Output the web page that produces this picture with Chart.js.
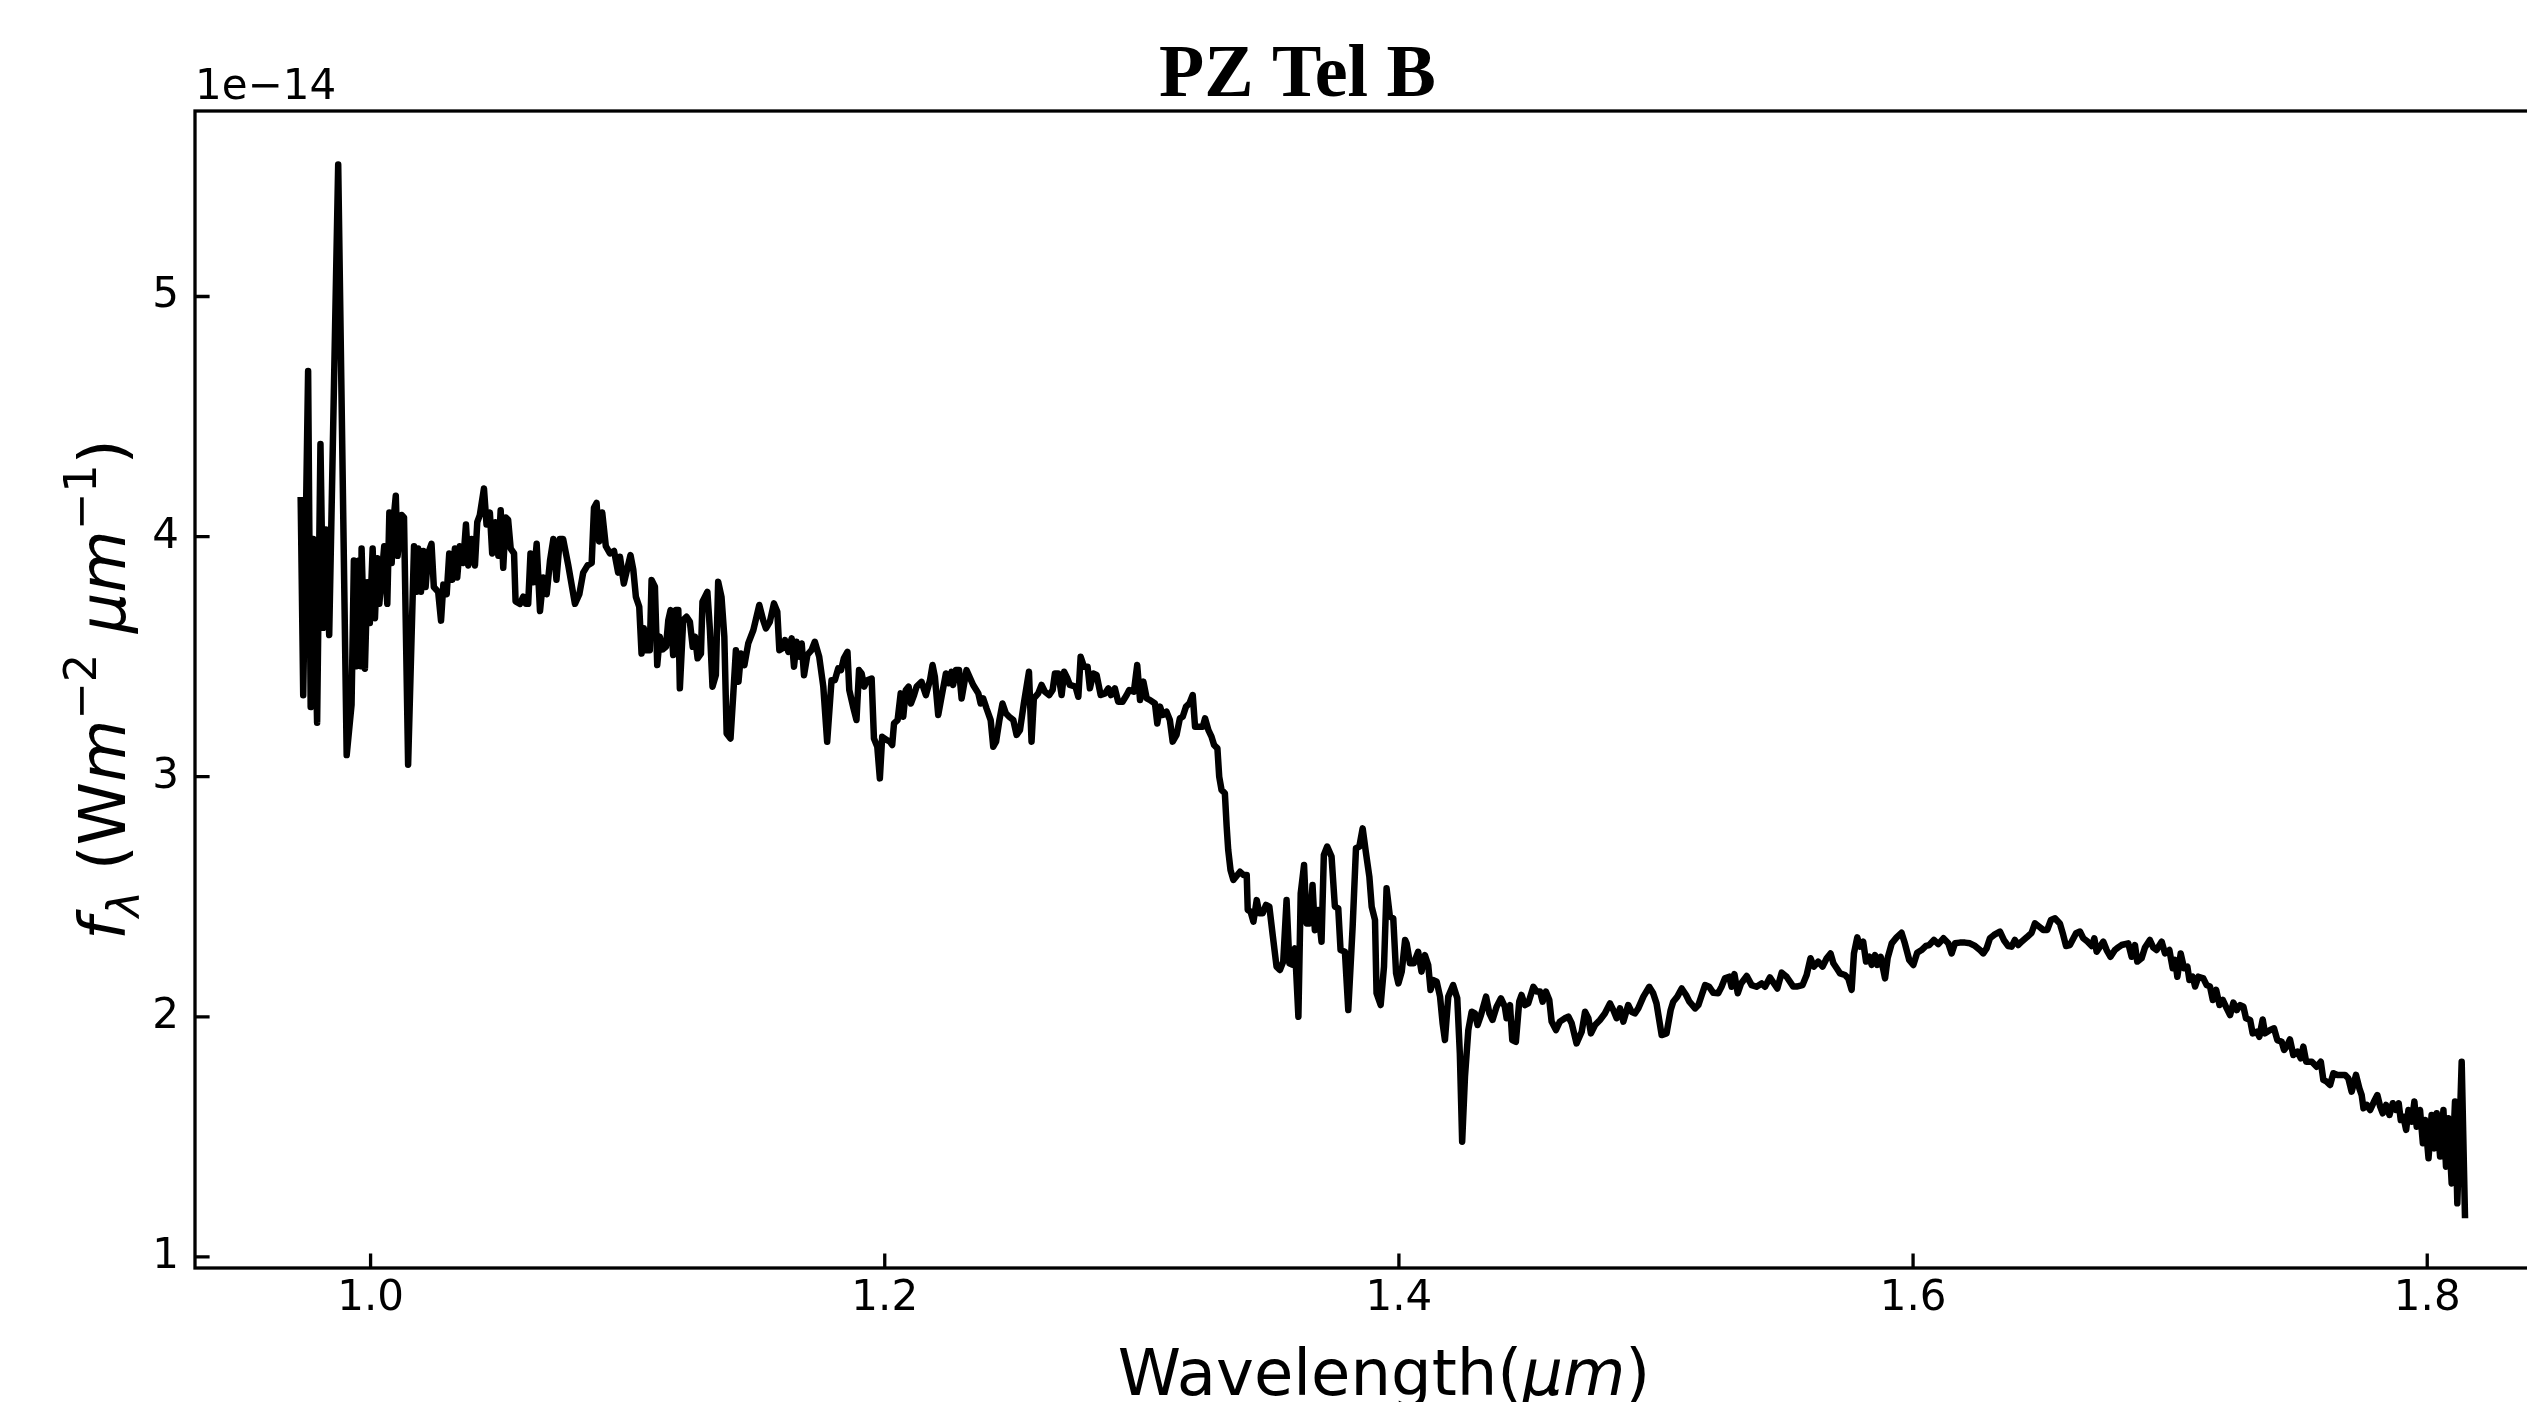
<!DOCTYPE html>
<html>
<head>
<meta charset="utf-8">
<script src="https://cdn.jsdelivr.net/npm/chart.js@4.4.0/dist/chart.umd.min.js"></script>
<style>
  html, body { margin: 0; padding: 0; background: #fff; overflow: hidden; }
  canvas { display: block; }
</style>
</head>
<body>
<canvas id="spectrum" width="2595" height="1402"></canvas>
<script>
// wavelength in micron, flux in units of 1e-14 W m^-2 um^-1
const wavelength = [
  0.9728,0.9738,0.9757,0.9767,0.9777,0.9792,0.9805,0.9816,0.9826,0.9839,0.9874,0.9907,0.9926,0.9935,0.9945,0.9955,0.9962,0.9965,0.9978,0.9987,
  0.9997,1.0008,1.0017,1.0026,1.0034,1.0053,1.0065,1.0073,1.0082,1.0091,1.0098,1.0105,1.0121,1.0130,1.0146,1.0169,1.0179,1.0185,1.0196,1.0205,
  1.0214,1.0224,1.0237,1.0246,1.0263,1.0274,1.0283,1.0296,1.0306,1.0318,1.0328,1.0337,1.0347,1.0360,1.0371,1.0380,1.0393,1.0406,1.0415,1.0425,
  1.0441,1.0451,1.0464,1.0473,1.0486,1.0497,1.0506,1.0516,1.0526,1.0535,1.0545,1.0558,1.0564,1.0581,1.0594,1.0604,1.0613,1.0622,1.0633,1.0646,
  1.0659,1.0672,1.0685,1.0698,1.0711,1.0723,1.0736,1.0749,1.0769,1.0795,1.0812,1.0827,1.0844,1.0860,1.0869,1.0879,1.0889,1.0901,1.0915,1.0931,
  1.0947,1.0963,
  1.0970,1.0985,1.1011,1.1022,1.1032,1.1045,1.1054,1.1063,1.1071,1.1086,1.1093,1.1106,1.1115,1.1125,1.1136,1.1149,1.1158,1.1167,1.1177,1.1188,
  1.1197,1.1203,1.1216,1.1229,1.1242,1.1253,1.1262,1.1272,1.1285,1.1291,1.1310,1.1320,1.1330,1.1343,1.1352,1.1365,1.1376,1.1385,1.1400,1.1411,
  1.1421,1.1431,1.1441,1.1454,1.1469,1.1489,1.1512,1.1527,1.1538,1.1553,1.1569,1.1582,1.1590,1.1601,1.1612,1.1625,1.1638,1.1647,1.1657,1.1667,
  1.1677,1.1686,1.1699,1.1715,1.1728,1.1745,1.1761,1.1776,1.1793,1.1806,1.1819,1.1830,1.1841,1.1855,1.1862,1.1877,1.1890,1.1900,1.1910,1.1920,
  1.1932,1.1949,1.1958,1.1971,1.1981,1.1990,1.2007,1.2020,1.2029,1.2036,1.2050,1.2062,1.2072,1.2082,1.2093,1.2102,1.2114,1.2124,1.2143,1.2160,
  1.2176,1.2186,1.2195,1.2208,1.2221,1.2238,1.2248,1.2260,1.2266,1.2277,1.2289,1.2299,1.2318,1.2344,1.2364,1.2373,1.2383,1.2396,1.2412,1.2422,
  1.2433,1.2446,1.2458,1.2471,1.2484,
  1.2500,1.2513,1.2526,1.2541,1.2561,1.2571,1.2580,1.2597,1.2610,1.2623,1.2640,1.2653,1.2662,1.2675,1.2688,1.2698,1.2710,1.2720,1.2742,1.2753,
  1.2762,1.2775,1.2789,1.2798,1.2811,1.2824,1.2840,1.2857,1.2870,1.2880,1.2895,1.2908,1.2925,1.2941,1.2951,1.2969,1.2982,1.2993,1.3006,1.3019,
  1.3032,1.3051,1.3060,1.3071,1.3081,1.3096,1.3109,1.3120,1.3135,1.3148,1.3159,1.3172,1.3185,1.3198,1.3207,1.3237,1.3246,1.3259,1.3271,1.3281,
  1.3294,1.3301,1.3310,1.3323,1.3330,1.3336,1.3345,1.3356,1.3382,1.3395,1.3408,1.3412,1.3423,1.3434,1.3447,1.3457,1.3470,1.3483,1.3496,1.3509,
  1.3524,1.3537,1.3550,1.3563,1.3574,1.3587,1.3596,1.3609,1.3618,1.3631,1.3641,1.3654,1.3664,1.3673,1.3686,1.3699,1.3708,1.3721,1.3738,1.3751,
  1.3764,1.3773,1.3790,1.3803,1.3820,1.3833,1.3846,1.3859,1.3872,1.3885,1.3894,1.3907,1.3913,1.3929,1.3942,1.3952,1.3965,1.3978,1.3989,1.3998,
  1.4011,1.4024,
  1.4030,1.4043,1.4058,1.4075,1.4088,1.4101,1.4114,1.4123,1.4134,1.4147,1.4160,1.4170,1.4179,1.4192,1.4211,1.4227,1.4237,1.4246,1.4257,1.4270,
  1.4283,1.4296,1.4306,1.4319,1.4339,1.4352,1.4364,1.4380,1.4397,1.4412,1.4419,1.4432,1.4441,1.4455,1.4468,1.4477,1.4490,1.4503,1.4523,1.4536,
  1.4549,1.4559,1.4572,1.4585,1.4594,1.4611,1.4626,1.4646,1.4659,1.4672,1.4691,1.4711,1.4724,1.4737,1.4747,1.4763,1.4782,1.4801,1.4821,1.4834,
  1.4847,1.4860,1.4873,1.4892,1.4905,1.4918,1.4931,1.4951,1.4974,1.4989,1.5002,1.5022,1.5041,1.5057,1.5067,1.5083,1.5100,1.5117,1.5130,1.5152,
  1.5165,1.5178,1.5191,1.5207,1.5223,1.5242,1.5255,1.5268,1.5285,1.5294,1.5305,1.5318,1.5331,1.5353,1.5372,1.5391,1.5411,1.5424,1.5443,1.5472,
  1.5489,1.5508,
  1.5534,1.5547,1.5570,1.5586,1.5601,1.5614,1.5631,1.5648,1.5664,1.5679,1.5690,1.5703,1.5716,1.5735,1.5748,1.5761,1.5770,1.5783,1.5793,1.5806,
  1.5817,1.5830,1.5839,1.5852,1.5861,1.5874,1.5891,1.5901,1.5917,1.5936,1.5955,1.5968,1.5985,1.6001,1.6016,1.6033,1.6050,1.6063,1.6081,1.6098,
  1.6118,1.6137,1.6150,1.6163,1.6182,1.6202,1.6221,1.6241,1.6260,1.6273,1.6286,1.6299,1.6315,1.6338,1.6353,1.6370,1.6383,1.6396,1.6409,1.6422,
  1.6442,1.6461,1.6474,1.6491,1.6506,1.6522,1.6536,1.6552,1.6571,1.6584,1.6595,1.6610,1.6634,1.6649,1.6662,1.6679,1.6695,1.6705,1.6714,1.6727,
  1.6740,1.6753,1.6768,1.6785,1.6798,1.6811,1.6837,1.6850,1.6863,1.6872,1.6889,1.6902,1.6921,1.6934,1.6947,1.6967,1.6980,1.6997,
  1.7010,1.7019,1.7028,1.7041,1.7054,1.7067,1.7075,1.7088,1.7097,1.7110,1.7129,1.7142,1.7155,1.7166,1.7179,1.7192,1.7205,1.7220,1.7233,1.7246,
  1.7259,1.7272,1.7285,1.7295,1.7311,1.7321,1.7337,1.7347,1.7360,1.7369,1.7389,1.7404,1.7417,1.7434,1.7443,1.7453,1.7466,1.7479,1.7495,1.7508,
  1.7518,1.7529,1.7551,1.7570,1.7586,1.7596,1.7609,1.7622,1.7635,1.7651,1.7680,1.7693,1.7706,1.7723,1.7736,1.7745,1.7752,1.7765,1.7778,1.7793,
  1.7806,1.7817,1.7827,1.7840,1.7853,1.7866,1.7879,1.7889,1.7897,1.7907,1.7918,1.7927,1.7940,1.7950,1.7959,1.7972,1.7983,1.7992,1.8005,1.8017,
  1.8028,1.8037,1.8050,1.8063,1.8073,1.8082,1.8095,1.8108,1.8117,1.8134,1.8147
];

const flux = [
  4.165,3.339,4.690,3.290,3.990,3.225,4.386,3.620,4.030,3.590,5.550,3.090,3.300,3.900,3.460,3.900,3.460,3.950,3.450,3.810,
  3.640,3.950,3.660,3.910,3.720,3.960,3.720,4.100,3.890,4.090,4.170,3.920,4.090,4.080,3.050,3.960,3.770,3.950,3.770,3.940,
  3.790,3.930,3.970,3.790,3.770,3.650,3.800,3.760,3.930,3.820,3.950,3.830,3.960,3.890,4.050,3.880,3.990,3.880,4.060,4.090,
  4.200,4.050,4.100,3.930,4.060,3.920,4.110,3.870,4.080,4.070,3.950,3.930,3.730,3.720,3.750,3.720,3.720,3.930,3.810,3.970,
  3.690,3.830,3.760,3.900,3.990,3.820,3.990,3.990,3.880,3.720,3.760,3.850,3.880,3.890,4.120,4.140,3.980,4.100,3.960,3.930,
  3.940,3.850,
  3.916,3.805,3.923,3.861,3.749,3.708,3.513,3.618,3.527,3.527,3.819,3.791,3.465,3.583,3.530,3.541,3.652,3.694,3.507,3.694,
  3.694,3.368,3.652,3.666,3.645,3.541,3.583,3.493,3.513,3.729,3.770,3.611,3.375,3.423,3.812,3.749,3.583,3.180,3.159,3.347,
  3.527,3.395,3.513,3.465,3.555,3.611,3.715,3.652,3.618,3.645,3.722,3.687,3.527,3.534,3.569,3.520,3.576,3.458,3.562,3.500,
  3.555,3.423,3.507,3.527,3.562,3.500,3.375,3.146,3.402,3.402,3.451,3.444,3.493,3.520,3.361,3.291,3.236,3.444,3.430,3.375,
  3.402,3.409,3.159,3.125,2.993,3.166,3.153,3.146,3.132,3.222,3.236,3.347,3.250,3.361,3.375,3.305,3.340,3.375,3.395,3.340,
  3.402,3.465,3.416,3.257,3.333,3.430,3.389,3.437,3.382,3.444,3.444,3.326,3.444,3.382,3.347,3.305,3.326,3.284,3.236,3.125,
  3.146,3.236,3.305,3.264,3.250,
  3.236,3.174,3.194,3.305,3.437,3.146,3.326,3.347,3.382,3.354,3.340,3.361,3.430,3.430,3.340,3.437,3.410,3.382,3.375,3.333,
  3.500,3.458,3.458,3.368,3.430,3.424,3.340,3.347,3.368,3.340,3.368,3.312,3.312,3.340,3.361,3.354,3.465,3.319,3.396,3.326,
  3.319,3.305,3.222,3.292,3.257,3.271,3.236,3.146,3.174,3.243,3.250,3.292,3.305,3.340,3.208,3.208,3.243,3.194,3.167,3.132,
  3.118,3.000,2.945,2.931,2.792,2.695,2.611,2.570,2.604,2.591,2.591,2.445,2.438,2.396,2.486,2.431,2.431,2.466,2.459,2.341,
  2.209,2.195,2.230,2.486,2.223,2.216,2.285,2.000,2.514,2.632,2.389,2.389,2.549,2.361,2.445,2.313,2.674,2.709,2.667,2.459,
  2.452,2.278,2.271,2.028,2.375,2.702,2.709,2.785,2.681,2.584,2.459,2.403,2.098,2.049,2.209,2.535,2.417,2.410,2.181,2.139,
  2.188,2.320,
  2.306,2.223,2.223,2.271,2.188,2.257,2.216,2.112,2.153,2.146,2.084,1.973,1.903,2.084,2.132,2.077,1.848,1.480,1.751,1.945,
  2.021,2.014,1.966,2.007,2.084,2.014,1.987,2.042,2.077,2.042,1.994,2.049,1.903,1.896,2.063,2.091,2.049,2.056,2.125,2.105,
  2.105,2.063,2.105,2.070,1.980,1.945,1.980,1.994,2.001,1.973,1.889,1.938,2.021,1.994,1.931,1.966,1.987,2.014,2.056,2.028,
  1.994,2.035,1.980,2.049,2.021,2.014,2.035,2.084,2.125,2.098,2.056,1.924,1.931,2.028,2.063,2.084,2.118,2.091,2.063,2.035,
  2.049,2.091,2.132,2.125,2.100,2.098,2.125,2.160,2.167,2.125,2.178,2.098,2.139,2.170,2.132,2.125,2.139,2.125,2.164,2.118,
  2.184,2.167,
  2.126,2.126,2.132,2.174,2.244,2.209,2.230,2.209,2.244,2.264,2.223,2.202,2.181,2.174,2.160,2.112,2.264,2.331,2.292,2.313,
  2.230,2.250,2.216,2.257,2.216,2.250,2.160,2.244,2.306,2.331,2.350,2.306,2.237,2.216,2.267,2.278,2.295,2.299,2.320,2.303,
  2.327,2.306,2.264,2.306,2.309,2.309,2.306,2.295,2.278,2.264,2.285,2.327,2.341,2.355,2.320,2.295,2.292,2.320,2.299,2.313,
  2.331,2.350,2.389,2.375,2.362,2.362,2.403,2.410,2.389,2.341,2.295,2.299,2.348,2.355,2.327,2.313,2.295,2.327,2.271,2.292,
  2.313,2.278,2.250,2.278,2.289,2.299,2.306,2.250,2.299,2.230,2.244,2.289,2.320,2.289,2.278,2.313,2.264,2.278,
  2.202,2.237,2.167,2.264,2.202,2.209,2.153,2.167,2.126,2.167,2.160,2.132,2.126,2.070,2.112,2.049,2.070,2.035,2.007,2.059,
  2.028,2.049,2.042,1.994,1.987,1.931,1.938,1.917,1.989,1.931,1.945,1.952,1.903,1.896,1.862,1.876,1.906,1.841,1.855,1.827,
  1.876,1.813,1.813,1.792,1.813,1.737,1.730,1.716,1.765,1.758,1.758,1.744,1.688,1.758,1.702,1.674,1.619,1.633,1.612,1.647,
  1.674,1.626,1.598,1.633,1.591,1.640,1.612,1.640,1.570,1.584,1.529,1.612,1.563,1.647,1.542,1.612,1.473,1.570,1.411,1.591,
  1.452,1.598,1.418,1.612,1.376,1.577,1.306,1.647,1.223,1.813,1.161
];

const xTicks = [1.0, 1.2, 1.4, 1.6, 1.8];
const yTicks = [1, 2, 3, 4, 5];
const xRange = [0.9317, 1.8567];
const yRange = [0.9538, 5.7726];
const chartTitle = "PZ Tel B";
const offsetLabel = "1e\u221214";

const SANS = "'DejaVu Sans', sans-serif";
const TICK_FONT = 42;
const LABEL_FONT = 64;

// draw a row of text pieces (mixed upright/italic, sub/superscripts) centred on cx
function drawRuns(ctx, runs, cx, baseY, size) {
  const fontOf = r => (r.italic ? "italic " : "") + (size * (r.scale || 1)) + "px " + SANS;
  let total = 0;
  runs.forEach(r => {
    ctx.font = fontOf(r);
    r.w = ctx.measureText(r.text).width;
    total += r.w;
  });
  let x = cx - total / 2;
  ctx.textAlign = "left";
  ctx.textBaseline = "alphabetic";
  runs.forEach(r => {
    ctx.font = fontOf(r);
    ctx.fillText(r.text, x, baseY - (r.rise || 0) * size);
    x += r.w;
  });
}

const axesDecor = {
  id: "axesDecor",
  afterDraw(chart) {
    const { ctx, chartArea: a } = chart;
    const xs = chart.scales.x, ys = chart.scales.y;
    ctx.save();
    ctx.strokeStyle = "#000";
    ctx.fillStyle = "#000";

    // inward ticks
    ctx.lineWidth = 3.3;
    ctx.beginPath();
    xs.ticks.forEach(t => {
      const px = xs.getPixelForValue(t.value);
      ctx.moveTo(px, a.bottom);
      ctx.lineTo(px, a.bottom - 14.6);
    });
    ys.ticks.forEach(t => {
      const py = ys.getPixelForValue(t.value);
      ctx.moveTo(a.left, py);
      ctx.lineTo(a.left + 14.6, py);
    });
    ctx.stroke();

    // frame
    ctx.strokeRect(a.left, a.top, a.right - a.left, a.bottom - a.top);

    // title
    ctx.font = "bold 74px 'Liberation Serif', serif";
    ctx.textAlign = "center";
    ctx.textBaseline = "alphabetic";
    ctx.fillText(chartTitle, chart.width / 2, 96);

    // offset text
    ctx.font = TICK_FONT + "px " + SANS;
    ctx.textAlign = "left";
    ctx.fillText(offsetLabel, a.left, a.top - 12);

    // x label
    drawRuns(ctx, [
      { text: "Wavelength(" },
      { text: "\u03bcm", italic: true },
      { text: ")" }
    ], (a.left + a.right) / 2, 1395, LABEL_FONT);

    // y label
    ctx.translate(125, (a.top + a.bottom) / 2);
    ctx.rotate(-Math.PI / 2);
    drawRuns(ctx, [
      { text: "f", italic: true },
      { text: "\u03bb", italic: true, scale: 0.7, rise: -0.22 },
      { text: " (W" },
      { text: "m", italic: true },
      { text: "\u22122", scale: 0.7, rise: 0.45 },
      { text: " " },
      { text: "\u03bcm", italic: true },
      { text: "\u22121", scale: 0.7, rise: 0.45 },
      { text: ")" }
    ], 0, 0, LABEL_FONT);
    ctx.restore();
  }
};

const n = Math.min(wavelength.length, flux.length);
const points = [];
for (let i = 0; i < n; i++) points.push({ x: wavelength[i], y: flux[i] });

new Chart(document.getElementById("spectrum"), {
  type: "line",
  data: {
    datasets: [{
      data: points,
      borderColor: "#000",
      borderWidth: 6.5,
      borderJoinStyle: "round",
      pointRadius: 0,
      tension: 0,
      fill: false
    }]
  },
  options: {
    responsive: false,
    devicePixelRatio: 1,
    animation: false,
    events: [],
    layout: { padding: { top: 111, left: 0, right: 22, bottom: 0 } },
    plugins: {
      legend: { display: false },
      tooltip: { enabled: false },
      title: { display: false }
    },
    scales: {
      x: {
        type: "linear",
        min: xRange[0],
        max: xRange[1],
        grid: { display: false, drawTicks: false },
        border: { display: false },
        afterBuildTicks: s => { s.ticks = xTicks.map(v => ({ value: v })); },
        afterFit: s => { s.height = 134; },
        ticks: {
          color: "#000",
          font: { family: SANS, size: TICK_FONT },
          padding: 6,
          maxRotation: 0,
          autoSkip: false,
          callback: v => v.toFixed(1)
        }
      },
      y: {
        type: "linear",
        min: yRange[0],
        max: yRange[1],
        grid: { display: false, drawTicks: false },
        border: { display: false },
        afterBuildTicks: s => { s.ticks = yTicks.map(v => ({ value: v })); },
        afterFit: s => { s.width = 195; },
        ticks: {
          color: "#000",
          font: { family: SANS, size: TICK_FONT },
          padding: 16,
          autoSkip: false,
          callback: v => String(v)
        }
      }
    }
  },
  plugins: [axesDecor]
});
</script>
</body>
</html>
